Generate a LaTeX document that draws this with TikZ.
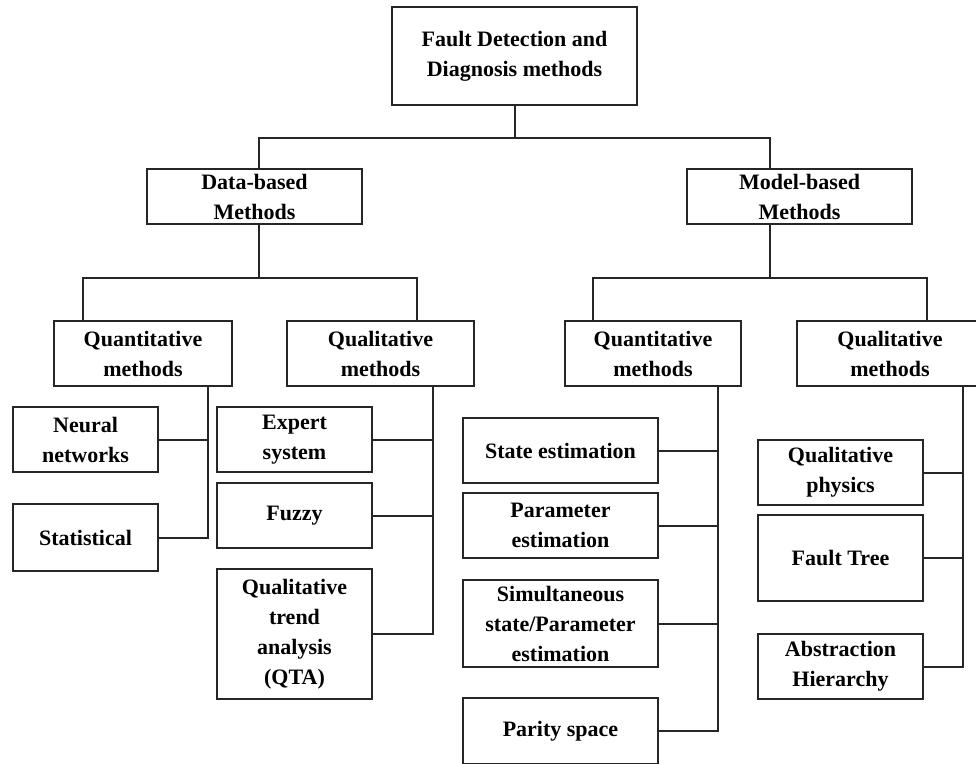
\documentclass[tikz,border=0pt]{standalone}
\usepackage{fontspec}
\setmainfont{Liberation Serif}
\usetikzlibrary{positioning,calc}
\tikzset{
  % node
	cstbox/.style    ={draw=black!85,fill=white,line width=2pt,align=center,inner sep=0pt,font=\fontsize{22}{30}\selectfont\bfseries},
  % line
	cstline/.style   ={draw=black!85,line width=2pt}
}

\begin{document}
\begin{tikzpicture}[x=1pt,y=-1pt]
	\useasboundingbox (0,0) rectangle (976,763);
	\clip (0,0) rectangle (976,763);
	% top
	\node[cstbox,minimum width=245pt,minimum height=98pt] (fdd) at (514.5,56) {Fault Detection and\\Diagnosis methods};
	\node[cstbox,minimum width=215pt,minimum height=55pt] (data) at (254.5,196.5) {Data-based\\Methods};
	\node[cstbox,minimum width=225pt,minimum height=55pt] (model) at (799.5,196.5) {Model-based\\Methods};
	% second level
	\node[cstbox,minimum width=178pt,minimum height=65pt] (qnl) at (143,353.5) {Quantitative\\methods};
	\node[cstbox,minimum width=187pt,minimum height=65pt] (qll) at (380.5,353.5) {Qualitative\\methods};
	\node[cstbox,minimum width=176pt,minimum height=65pt] (qnr) at (653,353.5) {Quantitative\\methods};
	\node[cstbox,minimum width=186pt,minimum height=65pt] (qlr) at (890,353.5) {Qualitative\\methods};
	% leaves
	\node[cstbox,minimum width=145pt,minimum height=65pt] (neural) at (85.5,439.5) {Neural\\networks};
	\node[cstbox,minimum width=145pt,minimum height=67pt] (stat) at (85.5,537.5) {Statistical};
	\node[cstbox,minimum width=155pt,minimum height=65pt] (expert) at (294.5,439.5) {Expert\\system};
	\node[cstbox,minimum width=155pt,minimum height=65pt] (fuzzy) at (294.5,515.5) {Fuzzy};
	\node[cstbox,minimum width=155pt,minimum height=130pt] (qta) at (294.5,634) {Qualitative\\trend\\analysis\\(QTA)};
	\node[cstbox,minimum width=195pt,minimum height=65pt] (state) at (560.5,450.5) {State estimation};
	\node[cstbox,minimum width=195pt,minimum height=65pt] (param) at (560.5,525.5) {Parameter\\estimation};
	\node[cstbox,minimum width=195pt,minimum height=87pt] (simul) at (560.5,623.5) {Simultaneous\\state/Parameter\\estimation};
	\node[cstbox,minimum width=195pt,minimum height=66pt] (parity) at (560.5,731) {Parity space};
	\node[cstbox,minimum width=165pt,minimum height=65pt] (qphys) at (840.5,472.5) {Qualitative\\physics};
	\node[cstbox,minimum width=165pt,minimum height=86pt] (ftree) at (840.5,558) {Fault Tree};
	\node[cstbox,minimum width=165pt,minimum height=65pt] (abst) at (840.5,666.5) {Abstraction\\Hierarchy};
	% tree lines
	\draw[cstline] (fdd.south) -- ++(0,32) coordinate (bar1);
	\draw[cstline] ([xshift=4.5pt]data.north) |- (bar1) -| ([xshift=-29.5pt]model.north);
	\draw[cstline] ([xshift=4.5pt]data.south) -- ++(0,53) coordinate (bar2L);
	\draw[cstline] ([xshift=-60pt]qnl.north) |- (bar2L) -| ([xshift=36.5pt]qll.north);
	\draw[cstline] ([xshift=-29.5pt]model.south) -- ++(0,53) coordinate (bar2R);
	\draw[cstline] ([xshift=-60pt]qnr.north) |- (bar2R) -| ([xshift=37pt]qlr.north);
	% spines
	\draw[cstline] ([xshift=65pt]qnl.south) coordinate (qnlS) |- (stat.east);
	\draw[cstline] (neural.east) -- (neural.east -| qnlS);
	\draw[cstline] ([xshift=52.5pt]qll.south) coordinate (qllS) |- (qta.east);
	\foreach \n in {expert,fuzzy}
		\draw[cstline] (\n.east) -- (\n.east -| qllS);
	\draw[cstline] ([xshift=65pt]qnr.south) coordinate (qnrS) |- (parity.east);
	\foreach \n in {state,param,simul}
		\draw[cstline] (\n.east) -- (\n.east -| qnrS);
	\draw[cstline] ([xshift=73pt]qlr.south) coordinate (qlrS) |- (abst.east);
	\foreach \n in {qphys,ftree}
		\draw[cstline] (\n.east) -- (\n.east -| qlrS);
\end{tikzpicture}
\end{document}
